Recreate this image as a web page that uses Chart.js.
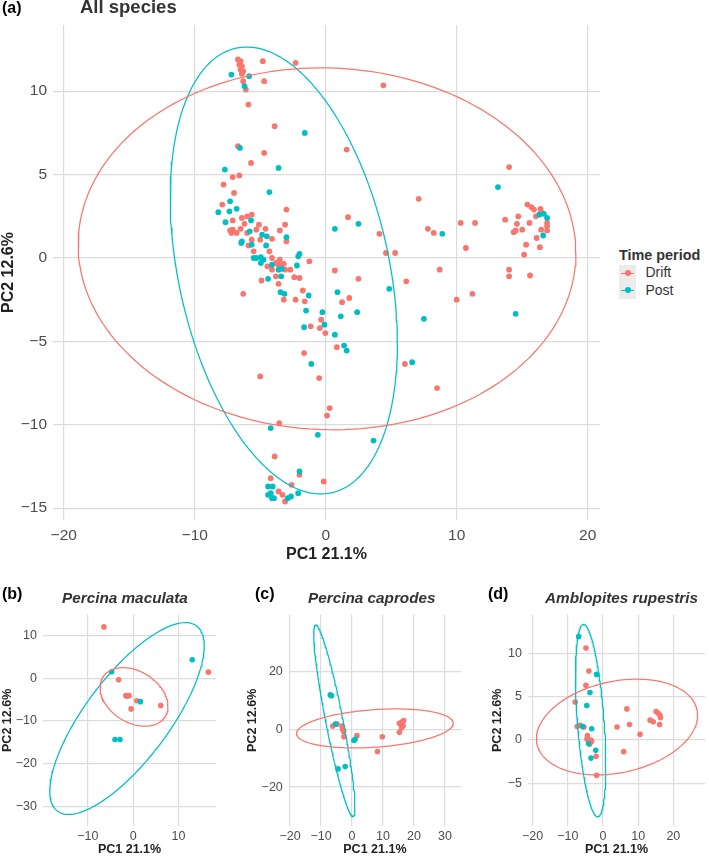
<!DOCTYPE html>
<html>
<head>
<meta charset="utf-8">
<script src="https://cdn.jsdelivr.net/npm/chart.js@4.4.1/dist/chart.umd.min.js"></script>
<style>
  body { margin: 0; background: #fff; font-family: "Liberation Sans", Arial, sans-serif; }
  #page { position: relative; width: 709px; height: 856px; overflow: hidden; background: #fff; }
  canvas { position: absolute; }
  .tag { position: absolute; font-weight: bold; font-size: 16px; line-height: 1; color: #000; white-space: nowrap; }
  .ttl { position: absolute; font-weight: bold; line-height: 1; color: #333; white-space: nowrap; }
  .sp { font-style: italic; font-size: 15.3px; }
  .leg { position: absolute; line-height: 1; white-space: nowrap; color: #333; }
  .key { position: absolute; left: 619px; width: 17px; height: 17px; background: #ebebeb; }
  .key i { position: absolute; left: 2px; top: 8px; width: 13px; height: 1.2px; }
  .key b { position: absolute; left: 5.5px; top: 5.5px; width: 6px; height: 6px; border-radius: 50%; }
</style>
</head>
<body>
<div id="page">
  <canvas id="chartA" width="606" height="566" style="left:0px;top:0px"></canvas>
  <canvas id="chartB" width="220" height="276" style="left:0px;top:580px"></canvas>
  <canvas id="chartC" width="220" height="276" style="left:245px;top:580px"></canvas>
  <canvas id="chartD" width="219" height="276" style="left:490px;top:580px"></canvas>

  <div class="tag" style="left:2px;top:0px">(a)</div>
  <div class="ttl" style="left:80px;top:-2px;font-size:18.5px">All species</div>
  <div class="tag" style="left:2px;top:586px">(b)</div>
  <div class="ttl sp" style="left:62px;top:590px">Percina maculata</div>
  <div class="tag" style="left:255px;top:586px">(c)</div>
  <div class="ttl sp" style="left:308px;top:590px">Percina caprodes</div>
  <div class="tag" style="left:488px;top:586px">(d)</div>
  <div class="ttl sp" style="left:545px;top:590px">Amblopites rupestris</div>

  <div class="leg" style="left:619px;top:247.5px;font-size:14.4px;font-weight:bold">Time period</div>
  <div class="key" style="top:264.5px"><i style="background:#F8766D"></i><b style="background:#F8766D"></b></div>
  <div class="key" style="top:281.5px"><i style="background:#00BFC4"></i><b style="background:#00BFC4"></b></div>
  <div class="leg" style="left:645.5px;top:265px;font-size:14px">Drift</div>
  <div class="leg" style="left:645.5px;top:283px;font-size:14px">Post</div>
</div>
<script>
const FONT = '"Liberation Sans", Arial, sans-serif';
const DRIFT = "#F8766D";
const POST = "#00BFC4";
const GRID = "#dcdcdc";

// (a) All species
const aXTicks = [-20, -10, 0, 10, 20];
const aYTicks = [-15, -10, -5, 0, 5, 10];
const aDrift = [
  [-6.7, 11.9], [-6.5, 11.8], [-6.6, 11.6], [-6.4, 11.5], [-6.5, 11.3], [-6.3, 11.2], [-6.4, 11.05],
  [-4.8, 11.8], [-2.3, 11.7], [-6.3, 10.6], [-4.7, 10.6], [-6.1, 10.1], [-5.9, 9.2], [-3.9, 7.9],
  [1.6, 6.5], [-6.7, 6.7], [-4.7, 6.3], [-5.7, 5.7], [-7.1, 4.85], [-6.6, 4.95], [-7.8, 4.4],
  [-7.0, 3.9], [-7.9, 3.2], [-3.0, 2.9], [-6.4, 2.4], [-6.0, 2.5], [-5.65, 2.6], [-7.1, 2.25],
  [-6.2, 2.05], [-5.1, 2.0], [-3.1, 2.0], [-7.1, 1.7], [-6.8, 1.5], [-7.2, 1.5], [-7.3, 1.65],
  [-6.5, 1.75], [-6.0, 1.5], [-5.3, 1.7], [-4.6, 1.75], [-3.5, 1.65], [-4.1, 1.15], [-3.0, 1.0],
  [-5.0, 1.1], [-5.65, 1.1], [-5.9, 0.75], [-5.5, 0.4], [-4.3, 0.4], [-4.1, 0.0], [-3.8, -0.3],
  [-3.5, -0.1], [-3.4, -0.6], [-4.1, -0.7], [-3.8, -1.1], [-3.6, -0.4], [-3.2, -0.35], [-4.45, -0.5],
  [-3.1, -0.7], [-2.7, -0.7], [-2.4, -1.15], [-1.25, -0.2], [-2.0, -1.2], [-4.9, -1.35], [-3.6, -1.55],
  [-6.3, -2.15], [-1.75, -1.95], [-3.2, -2.5], [-2.3, -2.5], [-1.6, -2.6], [-0.35, -3.7], [-1.15, -4.1],
  [-0.45, -4.2], [-0.03, -4.5], [1.7, 2.45], [0.7, -0.75], [1.25, -2.65], [1.8, -2.4],
  [0.85, -5.35], [-1.65, -5.7], [-5.0, -7.1], [-0.5, -7.2], [0.3, -9.0], [0.1, -9.45], [-3.55, -9.9],
  [-3.9, -11.9], [-4.2, -13.2], [-2.0, -13.0], [-0.15, -13.4], [-2.6, -13.6], [-3.6, -14.0],
  [-3.3, -14.2], [-3.1, -14.6],
  [4.4, 10.35], [14.0, 5.45], [7.1, 3.55], [4.1, 1.45], [7.8, 1.75], [8.25, 1.5], [10.3, 2.1],
  [11.4, 2.1], [10.7, 0.6], [4.6, 0.3], [5.3, 0.3], [8.7, -0.7], [6.15, -1.4], [2.5, -1.25],
  [10.0, -2.5], [11.2, -2.15], [14.0, -0.7], [14.0, -1.1], [15.6, -1.05],
  [15.4, 3.2], [15.7, 3.05], [15.9, 2.9], [16.4, 2.95], [16.05, 2.5], [16.45, 2.75], [16.9, 2.1],
  [16.9, 1.9], [16.9, 1.65], [16.45, 1.7], [16.1, 1.2], [16.35, 0.65], [15.15, 0.2], [15.3, 0.8],
  [15.0, 1.7], [14.6, 2.05], [14.7, 2.5], [13.7, 2.3], [14.35, 1.55], [14.5, 1.65], [15.55, 2.1],
  [6.05, -6.35], [8.5, -7.8]
];
const aPost = [
  [-7.2, 11.0], [-5.85, 10.9], [-6.2, 10.3], [-1.6, 7.5], [-6.55, 6.6], [-7.7, 5.3], [-3.6, 5.4],
  [-4.3, 3.95], [-7.3, 3.4], [-8.2, 2.75], [-6.8, 2.95], [-7.35, 2.8], [-7.65, 2.15], [-5.7, 2.25],
  [-5.8, 1.6], [-4.85, 1.4], [-4.5, 1.3], [-6.4, 1.0], [-6.45, 0.9], [-5.65, 0.8], [-3.0, 1.25],
  [-4.55, 0.75], [-5.5, 0.0], [-5.3, 0.0], [-4.95, 0.05], [-4.75, -0.1], [-4.95, -0.3], [-4.1, -0.4],
  [-3.6, -0.7], [-3.35, -0.65], [-2.1, 0.1], [-2.0, 0.25], [-2.2, -0.45], [-3.4, -1.1], [-4.4, -1.25],
  [-3.45, -2.05], [-3.15, -2.15], [-1.3, -2.25], [-1.5, -3.15], [-0.25, -3.25], [-0.1, -4.0],
  [-1.65, -4.15], [0.7, -4.6], [0.7, 1.75], [0.9, -2.05], [1.15, -3.5],
  [1.4, -5.25], [1.6, -5.55], [-1.1, -6.35], [-4.2, -10.2], [-0.6, -10.6], [-2.0, -12.8],
  [-4.4, -13.7], [-4.05, -13.7], [-4.2, -14.1], [-4.4, -14.2], [-3.95, -14.4], [-4.1, -14.4],
  [-2.9, -14.4], [-2.65, -14.3], [-2.1, -14.1],
  [13.15, 4.25], [2.5, 2.05], [8.9, 1.45], [16.3, 2.6], [16.65, 2.65], [16.9, 2.4], [16.6, 1.35],
  [4.85, -1.85], [2.4, -3.25], [7.5, -3.65], [14.5, -3.35], [6.6, -6.25], [3.65, -10.95]
];
// ellipse: centre x, centre y, half width, half height, x offset of top point
const aDriftEllipse = [0.1, 0.55, 19.0, 10.85, -0.45];
const aPostEllipse = [-3.2, -0.75, 8.67, 13.4, -2.83];

// (b) Percina maculata
const bXTicks = [-10, 0, 10];
const bYTicks = [-30, -20, -10, 0, 10];
const bDrift = [[-6.45, 12.0], [-3.2, -0.4], [-1.6, -4.1], [-1.3, -4.2], [-0.9, -4.1], [0.8, -5.3],
  [-0.45, -7.2], [6.1, -6.4], [16.6, 1.4]];
const bPost = [[-4.75, 1.5], [1.6, -5.5], [13.05, 4.3], [-4.0, -14.35], [-2.9, -14.35]];
const bDriftEllipse = [0.2, -4.4, 7.5, 6.85, -2.4];
const bPostEllipse = [-1.35, -9.45, 17.05, 22.45, 12.9];

// (c) Percina caprodes
const cXTicks = [-20, -10, 0, 10, 20, 30];
const cYTicks = [-20, 0, 20];
const cDrift = [[-6.2, 1.1], [-4.8, 1.8], [-3.2, 1.1], [-3.0, 0.0], [-2.7, -0.8], [-2.6, -2.6],
  [1.6, -2.2], [9.8, -2.6], [8.2, -7.7], [15.3, 2.1], [16.2, 2.6], [16.7, 3.0], [16.5, 1.25],
  [16.0, 0.55], [15.3, -1.05]];
const cPost = [[-7.0, 11.9], [-6.6, 11.6], [-5.3, 1.8], [1.0, -3.5], [0.6, -3.9], [-2.2, -12.9], [-4.5, -13.7]];
const cDriftEllipse = [7.4, 0.3, 25.3, 6.75, 6.7];
const cPostEllipse = [-5.7, 3.0, 6.65, 33.15, -6.0];

// (d) Amblopites rupestris
const dXTicks = [-20, -10, 0, 10, 20];
const dYTicks = [-5, 0, 5, 10];
const dDrift = [[-4.85, 10.65], [-4.0, 8.0], [-4.85, 6.35], [-7.9, 4.4], [-7.3, 1.55], [-6.5, 1.7],
  [-5.4, 1.5], [-4.4, 0.5], [-4.55, 0.1], [-4.1, -0.1], [-3.45, 0.0], [-3.8, -0.5], [-3.2, -0.15],
  [-1.95, -1.9], [-1.8, -4.1], [4.0, 1.5], [6.8, 3.6], [7.55, 1.8], [5.9, -1.35], [10.55, 0.65],
  [13.4, 2.3], [14.3, 2.1], [15.1, 3.3], [15.7, 3.1], [16.15, 2.9], [16.35, 2.6], [16.1, 1.8]];
const dPost = [[-6.9, 12.0], [-1.8, 7.6], [-3.7, 5.5], [-4.6, 4.0], [-5.8, 1.55], [-3.2, 1.3],
  [-4.1, -0.4], [-2.05, -1.2], [-3.4, -2.1]];
const dDriftEllipse = [4.0, 1.5, 22.9, 5.55, 5.6];
const dPostEllipse = [-3.5, 2.25, 4.3, 11.15, -2.0];

function toXY(pairs) {
  return pairs.map(p => ({ x: p[0], y: p[1] }));
}

function ellipsePath(e) {
  const [cx, cy, rx, ry, dxTop] = e;
  const k = dxTop * ry / rx;
  const s = Math.sqrt(ry * ry - k * k);
  const pts = [];
  for (let i = 0; i <= 180; i++) {
    const t = i / 180 * Math.PI * 2;
    pts.push({ x: cx + rx * Math.cos(t), y: cy + k * Math.cos(t) + s * Math.sin(t) });
  }
  return pts;
}

function fmt(v) {
  return String(v).replace("-", "\u2212");
}

function buildChart(id, p) {
  const tickFont = { family: FONT, size: p.tickSize };
  const titleFont = { family: FONT, size: p.titleSize, weight: "bold", lineHeight: 1.05 };
  return new Chart(document.getElementById(id), {
    type: "scatter",
    data: {
      datasets: [
        { data: ellipsePath(p.driftEllipse), showLine: true, fill: false, pointRadius: 0,
          borderColor: DRIFT, borderWidth: 1.25, order: 0 },
        { data: ellipsePath(p.postEllipse), showLine: true, fill: false, pointRadius: 0,
          borderColor: POST, borderWidth: 1.25, order: 0 },
        { data: toXY(p.post), pointRadius: p.r, backgroundColor: POST, borderWidth: 0, order: 1 },
        { data: toXY(p.drift), pointRadius: p.r, backgroundColor: DRIFT, borderWidth: 0, order: 2 }
      ]
    },
    options: {
      responsive: false,
      animation: false,
      events: [],
      layout: { padding: { top: p.padTop, right: p.padRight, left: 0, bottom: 0 } },
      plugins: { legend: { display: false }, tooltip: { enabled: false } },
      scales: {
        x: {
          type: "linear",
          min: p.xRange[0],
          max: p.xRange[1],
          afterBuildTicks: s => { s.ticks = p.xTicks.map(v => ({ value: v })); },
          afterFit: s => { s.height = p.xAxisH; },
          grid: { color: GRID, lineWidth: 1.2, drawTicks: false },
          border: { display: false },
          ticks: { padding: p.xTickPad, font: tickFont, color: "#4d4d4d", callback: fmt, maxRotation: 0 },
          title: { display: true, text: "PC1 21.1%", font: titleFont, color: "#222",
                   padding: { top: 0, bottom: p.xTitlePad } }
        },
        y: {
          type: "linear",
          min: p.yRange[0],
          max: p.yRange[1],
          afterBuildTicks: s => { s.ticks = p.yTicks.map(v => ({ value: v })); },
          afterFit: s => { s.width = p.yAxisW; },
          grid: { color: GRID, lineWidth: 1.2, drawTicks: false },
          border: { display: false },
          ticks: { padding: 6, font: tickFont, color: "#4d4d4d", callback: fmt },
          title: { display: true, text: "PC2 12.6%", font: titleFont, color: "#222",
                   padding: { top: p.yTitlePad, bottom: 0 } }
        }
      }
    }
  });
}

buildChart("chartA", {
  drift: aDrift, post: aPost, driftEllipse: aDriftEllipse, postEllipse: aPostEllipse,
  xTicks: aXTicks, yTicks: aYTicks, xRange: [-20.82, 20.94], yRange: [-15.71, 13.97],
  padTop: 25, padRight: 6, yAxisW: 53, xAxisH: 46,
  tickSize: 15.5, titleSize: 16, xTickPad: 6, xTitlePad: 3.5, yTitlePad: 0, r: 2.9
});

buildChart("chartB", {
  drift: bDrift, post: bPost, driftEllipse: bDriftEllipse, postEllipse: bPostEllipse,
  xTicks: bXTicks, yTicks: bYTicks, xRange: [-19.9, 18.3], yRange: [-34.6, 14.85],
  padTop: 34.7, padRight: 3.4, yAxisW: 43, xAxisH: 30,
  tickSize: 12.5, titleSize: 12.5, xTickPad: 3, xTitlePad: 0, yTitlePad: 1, r: 2.8
});

buildChart("chartC", {
  drift: cDrift, post: cPost, driftEllipse: cDriftEllipse, postEllipse: cPostEllipse,
  xTicks: cXTicks, yTicks: cYTicks, xRange: [-20.4, 35.2], yRange: [-33.46, 39.65],
  padTop: 34.7, padRight: 2.1, yAxisW: 43.8, xAxisH: 30,
  tickSize: 12.5, titleSize: 12.5, xTickPad: 3, xTitlePad: 0, yTitlePad: 1, r: 2.8
});

buildChart("chartD", {
  drift: dDrift, post: dPost, driftEllipse: dDriftEllipse, postEllipse: dPostEllipse,
  xTicks: dXTicks, yTicks: dYTicks, xRange: [-21.3, 29.0], yRange: [-9.97, 14.52],
  padTop: 34.7, padRight: 1.5, yAxisW: 38, xAxisH: 30,
  tickSize: 12.5, titleSize: 12.5, xTickPad: 3, xTitlePad: 0, yTitlePad: 1, r: 2.8
});
</script>
</body>
</html>
